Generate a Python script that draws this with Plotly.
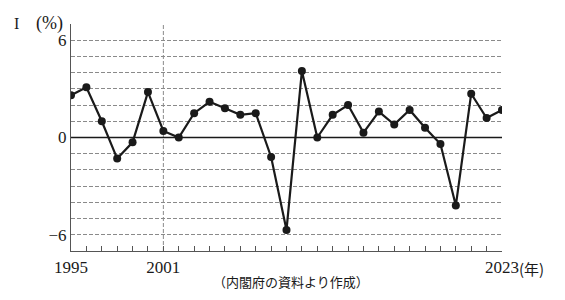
import plotly.graph_objects as go

years = list(range(1995, 2024))
growth = [2.6, 3.1, 1.0, -1.3, -0.3, 2.8, 0.4, 0.0, 1.5, 2.2, 1.8, 1.4, 1.5, -1.2, -5.7,
          4.1, 0.0, 1.4, 2.0, 0.3, 1.6, 0.8, 1.7, 0.6, -0.4, -4.2, 2.7, 1.2, 1.7]
x_tickvals = [1995, 2001, 2023]
x_ticktext = ["1995", "2001", "2023"]
y_tickvals = [-6, 0, 6]

serif = "Liberation Serif, DejaVu Serif, serif"
cjk = "Noto Sans CJK JP, sans-serif"
dash = "4px,2px"
gridc = "#8a8a8a"

fig = go.Figure()
fig.add_trace(go.Scatter(
    x=years, y=growth, mode="lines+markers",
    line=dict(color="#1a1a1a", width=2.2),
    marker=dict(color="#1a1a1a", size=8),
    showlegend=False, hoverinfo="skip"))

# vertical dashed line at 2001
fig.add_shape(type="line", xref="x", yref="paper", x0=2001, x1=2001, y0=0, y1=1,
              line=dict(color=gridc, width=1, dash=dash), layer="below")
# zero line
fig.add_shape(type="line", xref="paper", yref="y", x0=0, x1=1, y0=0, y1=0,
              line=dict(color="#1a1a1a", width=1.3), layer="above")

fig.update_layout(
    width=565, height=300,
    margin=dict(l=71, r=63, t=24, b=49),
    paper_bgcolor="white", plot_bgcolor="white",
    font=dict(family=serif, size=16, color="#1a1a1a"),
    xaxis=dict(
        range=[1995, 2023], tickvals=x_tickvals, ticktext=x_ticktext,
        showgrid=False, zeroline=False,
        showline=True, linecolor="#555", linewidth=1.2,
        ticks="inside", ticklen=5, tickcolor="#555", tickwidth=1,
        minor=dict(dtick=1, tick0=1995, ticks="inside", ticklen=5, tickcolor="#555", showgrid=False),
        tickfont=dict(family=serif, size=17),
    ),
    yaxis=dict(
        range=[-7, 7], tickvals=y_tickvals,
        showgrid=True, gridcolor=gridc, griddash=dash, gridwidth=1,
        zeroline=False,
        showline=True, linecolor="#555", linewidth=1.2,
        ticks="",
        minor=dict(dtick=1, tick0=0, showgrid=True, gridcolor=gridc, griddash=dash, gridwidth=1),
        tickfont=dict(family=serif, size=17),
    ),
)

fig.add_annotation(xref="paper", yref="paper", x=(12 - 71) / 430.7, y=1.0, xanchor="left", yanchor="middle",
                   yshift=1,
                   text="I", showarrow=False, font=dict(family=serif, size=16, color="#1a1a1a"))
fig.add_annotation(xref="paper", yref="paper", x=(34 - 71) / 430.7, y=1.0, xanchor="left", yanchor="middle",
                   yshift=1,
                   text="(%)", showarrow=False, font=dict(family=serif, size=18, color="#1a1a1a"))
fig.add_annotation(xref="paper", yref="paper", x=1, y=0, xanchor="left", yanchor="top",
                   xshift=15, yshift=-5,
                   text="(年)", showarrow=False, font=dict(family=cjk, size=15, color="#1a1a1a"))
fig.add_annotation(xref="paper", yref="paper", x=(291 - 71) / 430.7, y=0, xanchor="center", yanchor="middle",
                   yshift=-30,
                   text="（内閣府の資料より作成）", showarrow=False, font=dict(family=cjk, size=13, color="#1a1a1a"))

fig.write_html("out.html")
